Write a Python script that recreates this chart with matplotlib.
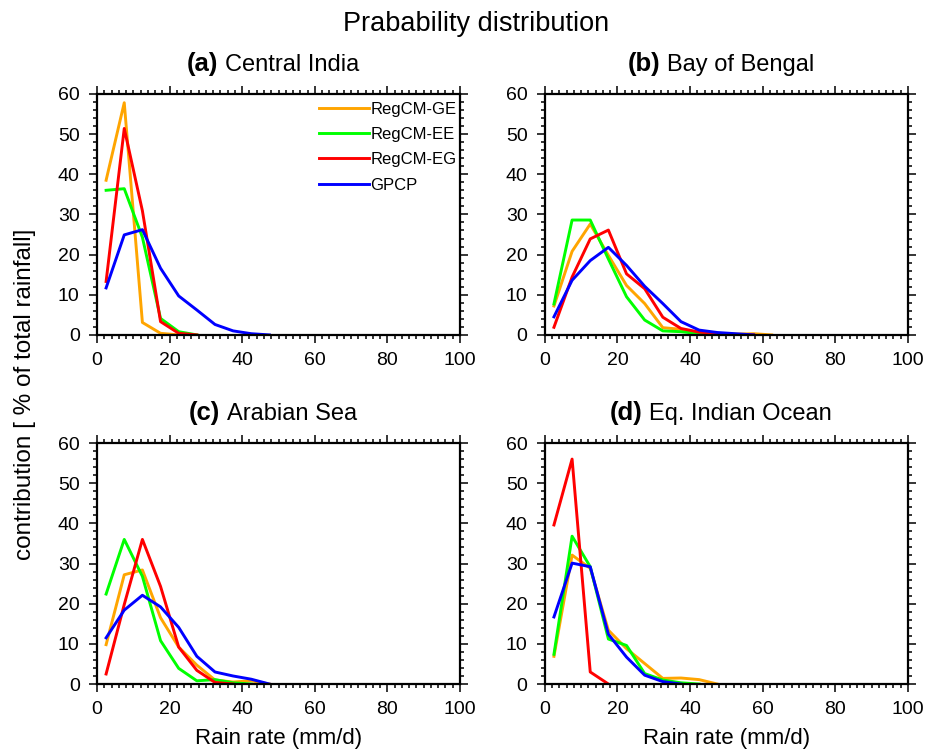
import numpy as np
import matplotlib
matplotlib.use("Agg")
import matplotlib.pyplot as plt
from matplotlib.ticker import MultipleLocator
from matplotlib.offsetbox import TextArea, HPacker, AnchoredOffsetbox

plt.rcParams["font.family"] = ["Liberation Sans", "DejaVu Sans"]

# bin centres (mm/d); each series stops at the bin where it reaches zero
rain_rate = [2.5, 7.5, 12.5, 17.5, 22.5, 27.5, 32.5, 37.5, 42.5, 47.5, 52.5, 57.5, 62.5]

series_names = ["RegCM-GE", "RegCM-EE", "RegCM-EG", "GPCP"]
series_colors = ["#FFA500", "#00FF00", "#FF0000", "#0000FF"]

# (a) Central India
ci_ge = [38.5, 57.8, 3.1, 0.4, 0]
ci_ee = [36.0, 36.4, 24.3, 4.1, 0.8, 0]
ci_eg = [13.3, 51.4, 30.9, 3.3, 0.4, 0]
ci_gpcp = [11.7, 24.9, 26.2, 16.6, 9.7, 6.2, 2.6, 1.0, 0.3, 0]

# (b) Bay of Bengal
bb_ge = [7.2, 20.8, 27.6, 19.8, 12.3, 7.8, 1.8, 1.4, 0.6, 0.3, 0.2, 0.3, 0]
bb_ee = [7.7, 28.6, 28.6, 18.9, 9.5, 3.7, 1.0, 0.8, 0.3, 0.1, 0]
bb_eg = [1.9, 14.4, 23.9, 26.1, 15.2, 11.5, 4.4, 1.6, 0.7, 0.3, 0.1, 0]
bb_gpcp = [4.5, 13.6, 18.5, 21.8, 17.3, 12.1, 7.8, 3.3, 1.2, 0.6, 0.3, 0]

# (c) Arabian Sea
as_ge = [9.8, 27.2, 28.4, 16.5, 9.2, 4.7, 1.0, 0.5, 0.8, 0]
as_ee = [22.4, 36.0, 26.8, 10.8, 3.9, 0.8, 1.1, 0.3, 0]
as_eg = [2.5, 19.8, 36.0, 24.3, 9.2, 3.4, 0.4, 0]
as_gpcp = [11.5, 18.4, 22.1, 19.2, 14.1, 6.9, 3.0, 2.0, 1.2, 0]

# (d) Eq. Indian Ocean
eio_ge = [6.9, 32.1, 28.8, 13.4, 8.8, 5.1, 1.4, 1.5, 1.1, 0]
eio_ee = [7.4, 36.8, 29.2, 11.2, 9.6, 2.6, 1.0, 0.3, 0]
eio_eg = [39.6, 56.0, 3.0, 0]
eio_gpcp = [16.7, 30.1, 29.2, 12.4, 6.7, 2.2, 0.6, 0]

panels = [
    ("(a)", "Central India", [ci_ge, ci_ee, ci_eg, ci_gpcp]),
    ("(b)", "Bay of Bengal", [bb_ge, bb_ee, bb_eg, bb_gpcp]),
    ("(c)", "Arabian Sea", [as_ge, as_ee, as_eg, as_gpcp]),
    ("(d)", "Eq. Indian Ocean", [eio_ge, eio_ee, eio_eg, eio_gpcp]),
]

fig = plt.figure(figsize=(9.33, 7.56), dpi=100)

lefts = [0.104, 0.584]
bottoms = [0.557, 0.0952]
w, h = 0.389, 0.3188

for i, (tag, name, data) in enumerate(panels):
    ax = fig.add_axes([lefts[i % 2], bottoms[i // 2], w, h])
    for vals, lab, col in zip(data, series_names, series_colors):
        ax.plot(rain_rate[:len(vals)], vals, color=col, lw=2.1, label=lab)
    ax.set_xlim(0, 100)
    ax.set_ylim(0, 60)
    ax.xaxis.set_major_locator(MultipleLocator(20))
    ax.xaxis.set_minor_locator(MultipleLocator(2))
    ax.yaxis.set_major_locator(MultipleLocator(10))
    ax.yaxis.set_minor_locator(MultipleLocator(2))
    ax.tick_params(which="both", direction="out", top=True, right=True, width=1.1)
    ax.tick_params(which="major", length=5.5, labelsize=14, pad=7)
    ax.tick_params(which="minor", length=3)
    for s in ax.spines.values():
        s.set_linewidth(1.6)

    # panel title: bold tag + plain region name
    title_box = HPacker(children=[
        TextArea(tag, textprops=dict(fontsize=18.5, fontweight="bold")),
        TextArea(name, textprops=dict(fontsize=17)),
    ], align="baseline", pad=0, sep=5)
    ax.add_artist(AnchoredOffsetbox(loc="lower center", child=title_box, pad=0,
                                    borderpad=0, frameon=False,
                                    bbox_to_anchor=(0.485, 1.075),
                                    bbox_transform=ax.transAxes))

    if i // 2 == 1:
        ax.set_xlabel("Rain rate (mm/d)", fontsize=16, labelpad=7)
    if i == 0:
        ax.legend(loc="upper right", frameon=False, fontsize=12,
                  handlelength=3.05, handletextpad=0.05, labelspacing=0.62,
                  borderpad=0, borderaxespad=0,
                  bbox_to_anchor=(0.99, 0.968))

fig.text(0.51, 0.968, "Prabability distribution", ha="center", va="center", fontsize=19.5)
fig.text(0.027, 0.479, "contribution [ % of total rainfall]", rotation=90,
         ha="center", va="center", fontsize=17.5)

fig.savefig("out.png", dpi=100)
